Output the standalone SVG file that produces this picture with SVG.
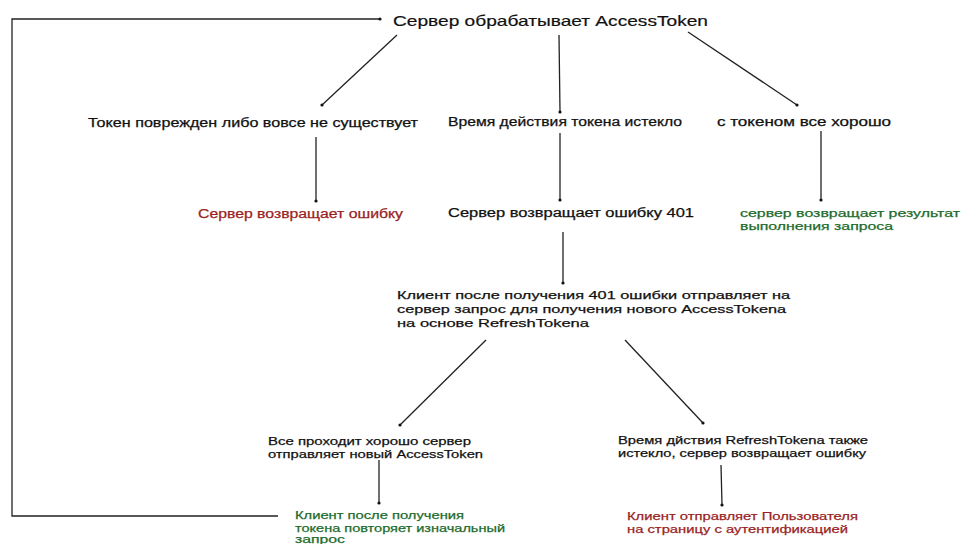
<svg xmlns="http://www.w3.org/2000/svg" width="961" height="544" viewBox="0 0 961 544">
<defs>
<marker id="dot" viewBox="0 0 4 4" refX="2" refY="2" markerWidth="4" markerHeight="4" markerUnits="userSpaceOnUse"><circle cx="2" cy="2" r="1.6" fill="#111"/></marker>
</defs>
<style>
text{font-family:"Liberation Sans",Arial,sans-serif;font-size:12px;fill:#111;stroke:#111;stroke-width:0.25}
.t{font-size:15px;stroke-width:0.2}
.m{font-size:11.5px}
.red{fill:#9a1f24;stroke:#9a1f24}
.grn{fill:#1c6b2c;stroke:#1c6b2c}
.c{stroke:#222;stroke-width:1.3;fill:none;marker-end:url(#dot)}
</style>
<rect width="961" height="544" fill="#fff"/>
<g id="connectors">
<polyline class="c" points="278,516 12,516 12,19 380,19"/>
<line class="c" x1="397" y1="35" x2="322" y2="105"/>
<line class="c" x1="559" y1="35" x2="560" y2="112"/>
<line class="c" x1="688" y1="32" x2="797" y2="105"/>
<line class="c" x1="316" y1="137" x2="316" y2="201"/>
<line class="c" x1="560" y1="133" x2="560" y2="200"/>
<line class="c" x1="821" y1="131" x2="821" y2="200"/>
<line class="c" x1="563" y1="232" x2="563" y2="283"/>
<line class="c" x1="486" y1="340" x2="400" y2="425"/>
<line class="c" x1="625" y1="340" x2="703" y2="423"/>
<line class="c" x1="379" y1="460" x2="379" y2="503"/>
<line class="c" x1="721" y1="465" x2="722" y2="505"/>
</g>
<g id="root"><text class="t" x="393" y="26" textLength="315" lengthAdjust="spacingAndGlyphs">Сервер обрабатывает AccessToken</text></g>
<g id="invalid"><text x="88" y="127" textLength="330" lengthAdjust="spacingAndGlyphs">Токен поврежден либо вовсе не существует</text></g>
<g id="expired"><text x="448" y="126" textLength="234" lengthAdjust="spacingAndGlyphs">Время действия токена истекло</text></g>
<g id="ok"><text x="717" y="126" textLength="174" lengthAdjust="spacingAndGlyphs">с токеном все хорошо</text></g>
<g id="err"><text class="red" x="198" y="218" textLength="205" lengthAdjust="spacingAndGlyphs">Сервер возвращает ошибку</text></g>
<g id="err401"><text x="448" y="217" textLength="246" lengthAdjust="spacingAndGlyphs">Сервер возвращает ошибку 401</text></g>
<g id="result"><text class="grn m" x="740" y="217" textLength="220" lengthAdjust="spacingAndGlyphs">сервер возвращает результат</text><text class="grn m" x="740" y="230" textLength="153" lengthAdjust="spacingAndGlyphs">выполнения запроса</text></g>
<g id="refresh"><text class="m" x="397" y="299" textLength="393" lengthAdjust="spacingAndGlyphs">Клиент после получения 401 ошибки отправляет на</text><text class="m" x="397" y="313" textLength="389" lengthAdjust="spacingAndGlyphs">сервер запрос для получения нового AccessTokena</text><text class="m" x="397" y="327" textLength="192" lengthAdjust="spacingAndGlyphs">на основе RefreshTokena</text></g>
<g id="newtoken"><text class="m" x="268" y="445" textLength="203" lengthAdjust="spacingAndGlyphs">Все проходит хорошо сервер</text><text class="m" x="268" y="458" textLength="215" lengthAdjust="spacingAndGlyphs">отправляет новый AccessToken</text></g>
<g id="refreshexp"><text class="m" x="618" y="444" textLength="250" lengthAdjust="spacingAndGlyphs">Время дйствия RefreshTokena также</text><text class="m" x="618" y="457" textLength="248" lengthAdjust="spacingAndGlyphs">истекло, сервер возвращает ошибку</text></g>
<g id="retry"><text class="grn m" x="295" y="519" textLength="169" lengthAdjust="spacingAndGlyphs">Клиент после получения</text><text class="grn m" x="295" y="531.5" textLength="210" lengthAdjust="spacingAndGlyphs">токена повторяет изначальный</text><text class="grn m" x="295" y="543" textLength="50" lengthAdjust="spacingAndGlyphs">запрос</text></g>
<g id="login"><text class="red m" x="627" y="520" textLength="231" lengthAdjust="spacingAndGlyphs">Клиент отправляет Пользователя</text><text class="red m" x="627" y="533" textLength="221" lengthAdjust="spacingAndGlyphs">на страницу с аутентификацией</text></g>
</svg>
